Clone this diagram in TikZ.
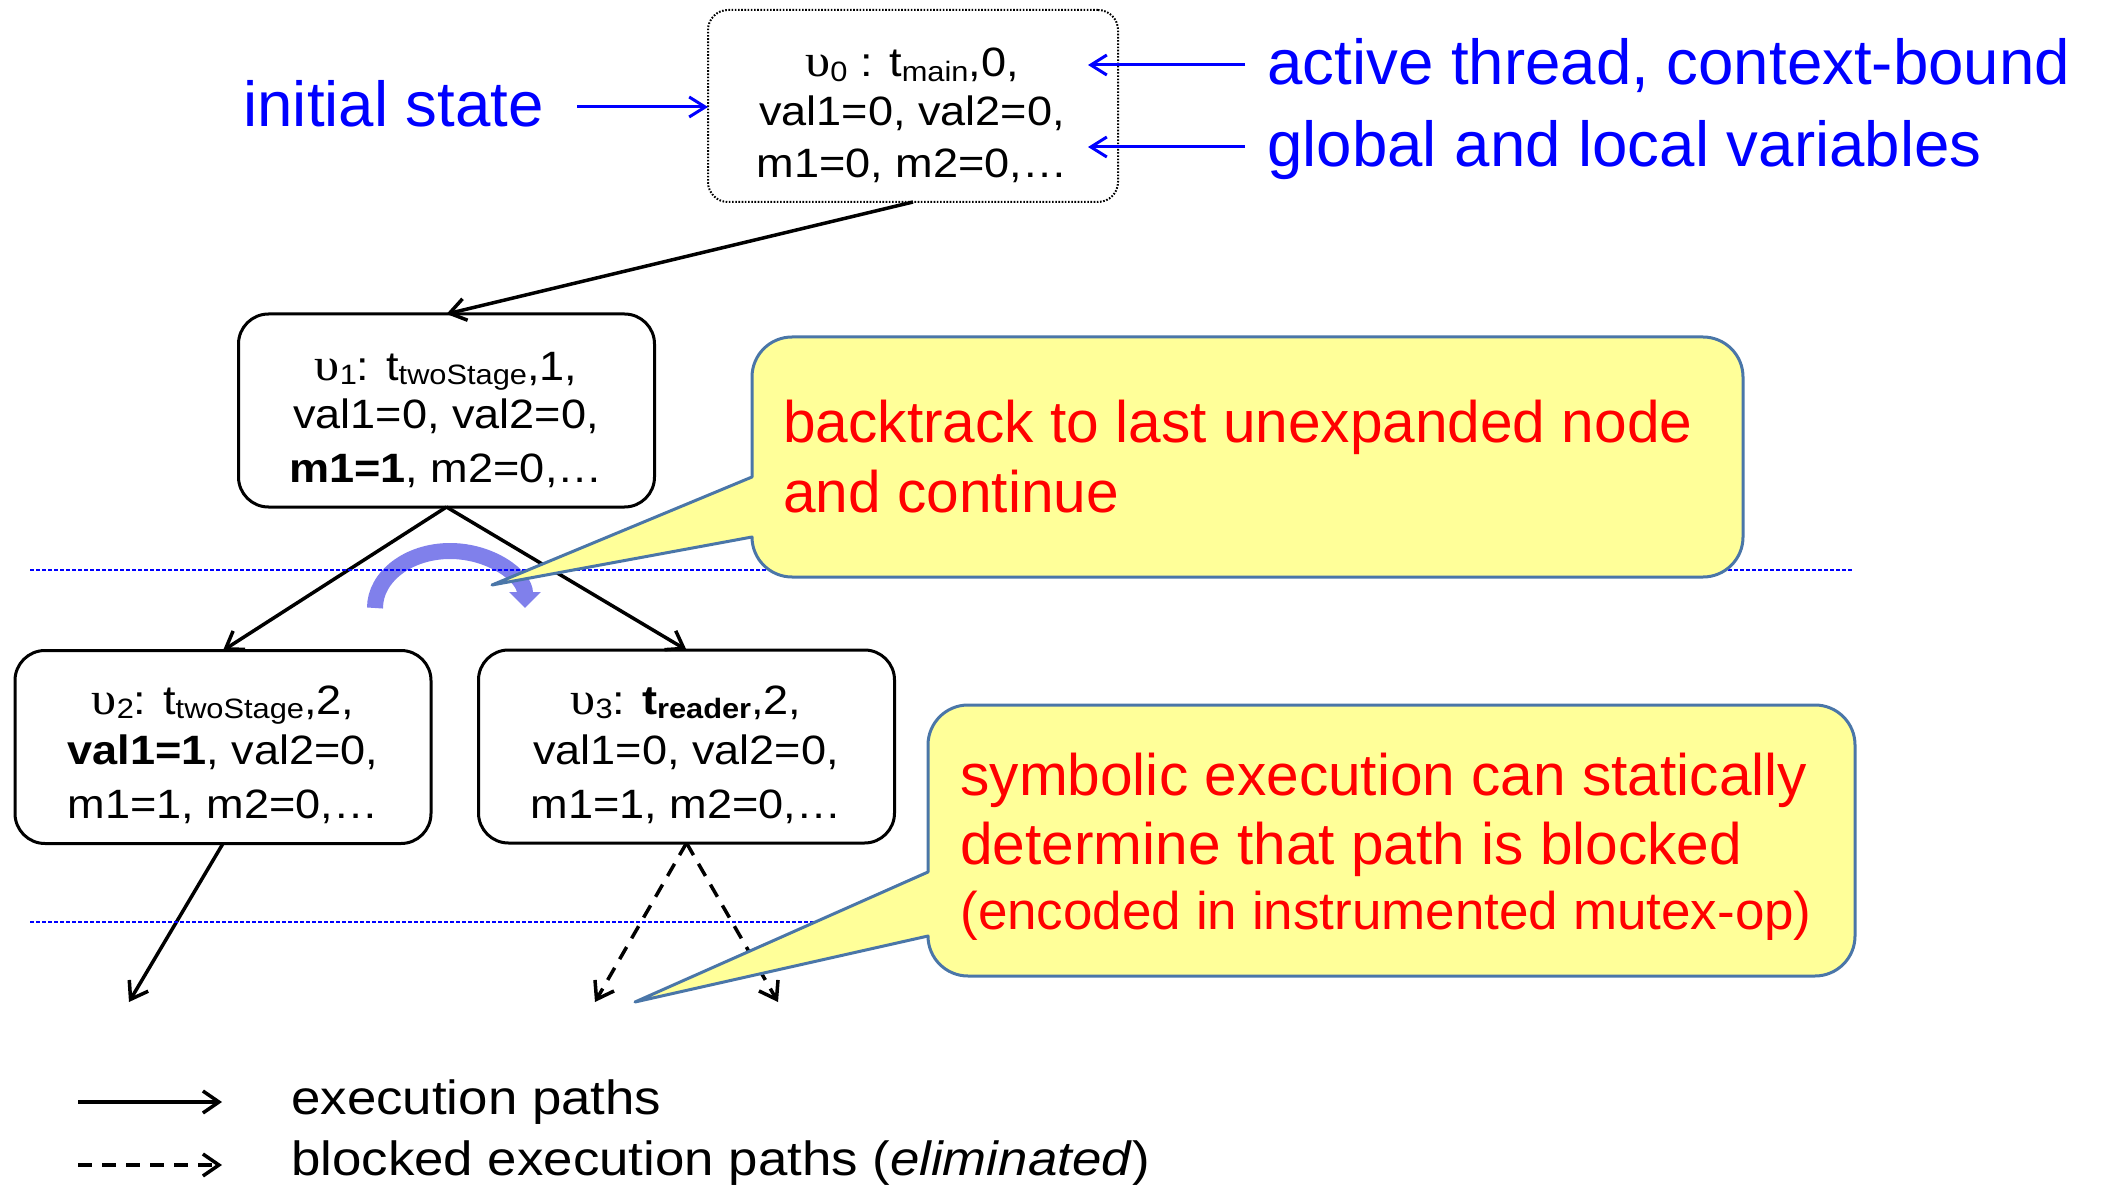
\documentclass[tikz,border=0pt]{standalone}
\usepackage{fontspec}
\usepackage{graphicx}
\setmainfont{Liberation Sans}
\newfontfamily\widesans[FakeStretch=1.1]{Liberation Sans}
\newfontfamily\widegreek[FakeStretch=1.1]{Liberation Serif}
\usetikzlibrary{arrows.meta}

\definecolor{callfill}{RGB}{255,255,153}
\definecolor{callline}{RGB}{74,118,168}
\definecolor{loopblue}{RGB}{128,128,235}
\definecolor{guide}{RGB}{0,0,255}
\definecolor{notered}{RGB}{255,0,0}
\definecolor{noteblue}{RGB}{0,0,255}

% subscript used in the state labels
\newcommand\lowtext[1]{\raisebox{-0.12em}{\fontsize{14}{14}\selectfont #1}}
\newcommand\upsi{{\widegreek\fontsize{23}{24}\selectfont υ}}

\begin{document}
\begin{tikzpicture}[x=0.5pt,y=-0.5pt,
  state/.style={draw, line width=1.5pt, rounded corners=15pt, fill=white,
    minimum width=208pt, minimum height=96.5pt, inner sep=0pt, outer sep=0pt},
  statetext/.style={anchor=base, inner sep=0pt,
    font=\widesans\fontsize{20.5}{24}\selectfont},
  execpath/.style={line width=1.75pt,
    -{Straight Barb[length=8pt,width=11pt]}},
  blockedpath/.style={execpath, dash pattern=on 7pt off 5pt},
  pointer/.style={draw=noteblue, line width=1.5pt,
    -{Straight Barb[length=8pt,width=10pt]}},
  bluenote/.style={anchor=base west, inner sep=0pt, text=noteblue,
    font=\fontsize{31.8}{36}\selectfont},
  rednote/.style={anchor=base west, inner sep=0pt, text=notered,
    font=\fontsize{29.3}{34}\selectfont},
  smallrednote/.style={anchor=base west, inner sep=0pt, text=notered,
    font=\fontsize{26.5}{30}\selectfont},
  legendtext/.style={anchor=base west, inner sep=0pt,
    font=\widesans\fontsize{24}{28}\selectfont},
  guideline/.style={draw=guide, line width=0.8pt, dash pattern=on 2pt off 1pt},
  callout/.style={fill=callfill, draw=callline, line width=1.5pt, line join=round}
]
\useasboundingbox (0,0) rectangle (2103,1187);

% state boxes
\node[state, line width=1pt, dash pattern=on 0.8pt off 0.8pt,
      rounded corners=10pt, minimum width=205pt, minimum height=96pt]
      (v0) at (913,106) {};
\node[state] (v1) at (446.5,410.5) {};
\node[state] (v2) at (223,747) {};
\node[state] (v3) at (686.5,746.5) {};

% free ends of the outgoing paths
\coordinate (end2) at (129,1002);
\coordinate (end3a) at (595,1002);
\coordinate (end3b) at (778,1002);

% backtracking arc
\draw[loopblue, line width=8pt, -{Triangle[width=15.5pt,length=8pt]}]
  (375,608) arc[start angle=180, end angle=360, x radius=75, y radius=57];

% execution paths
\draw[execpath] (v0.south) -- (v1.north);
\draw[execpath] (v1.south) -- (v2.north);
\draw[execpath] (v1.south) -- (v3.north);
\draw[execpath] (v2.south) -- (end2);
\draw[blockedpath] (v3.south) -- (end3a);
\draw[blockedpath] (v3.south) -- (end3b);

% level separators
\draw[guideline] (30,570) -- (1853,570);
\draw[guideline] (30,922) -- (1853,922);

% callouts
\draw[callout] (792,337) -- (1703,337)
  .. controls (1725.1,337) and (1743,354.9) .. (1743,377) -- (1743,537)
  .. controls (1743,559.1) and (1725.1,577) .. (1703,577) -- (792,577)
  .. controls (769.9,577) and (752,559.1) .. (752,537)
  -- (492,585) -- (752,477) -- (752,377)
  .. controls (752,354.9) and (769.9,337) .. (792,337) -- cycle;
\draw[callout] (968,705) -- (1815,705)
  .. controls (1837.1,705) and (1855,722.9) .. (1855,745) -- (1855,936)
  .. controls (1855,958.1) and (1837.1,976) .. (1815,976) -- (968,976)
  .. controls (945.9,976) and (928,958.1) .. (928,936)
  -- (635,1002) -- (928,872) -- (928,745)
  .. controls (928,722.9) and (945.9,705) .. (968,705) -- cycle;

% state contents
\node[statetext] (v0a) at (912,77) {\upsi\lowtext{0} : t\lowtext{main},0,};
\node[statetext] (v0b) at (912,126) {val1=0, val2=0,};
\node[statetext] (v0c) at (912,178) {m1=0, m2=0,…};

\node[statetext] (v1a) at (446,380) {\upsi\lowtext{1}: t\lowtext{twoStage},1,};
\node[statetext] (v1b) at (446,429) {val1=0, val2=0,};
\node[statetext] (v1c) at (446,482) {\textbf{m1=1}, m2=0,…};

\node[statetext] (v2a) at (223,714) {\upsi\lowtext{2}: t\lowtext{twoStage},2,};
\node[statetext] (v2b) at (223,764) {\textbf{val1=1}, val2=0,};
\node[statetext] (v2c) at (223,818) {m1=1, m2=0,…};

\node[statetext] (v3a) at (686,714) {\upsi\lowtext{3}: \textbf{t\lowtext{reader}},2,};
\node[statetext] (v3b) at (686,764) {val1=0, val2=0,};
\node[statetext] (v3c) at (686,818) {m1=1, m2=0,…};

% annotations in blue
\node[bluenote] (init) at (243,127) {initial state};
\node[bluenote] (act) at (1267,85) {active thread, context-bound};
\node[bluenote] (vars) at (1267,167) {global and local variables};
\coordinate (initTail) at (577,107);
\coordinate (actTail) at (1245,65);
\coordinate (actHead) at (1088,65);
\coordinate (varsTail) at (1245,147);
\coordinate (varsHead) at (1088,147);
\draw[pointer] (initTail) -- (initTail -| v0.west);
\draw[pointer] (actTail) -- (actHead);
\draw[pointer] (varsTail) -- (varsHead);

% callout texts
\node[rednote] (noteA1) at (783,443) {backtrack to last unexpanded node};
\node[rednote] (noteA2) at (783,512) {and continue};
\node[rednote] (noteB1) at (960,795) {symbolic execution can statically};
\node[rednote] (noteB2) at (960,864) {determine that path is blocked};
\node[smallrednote] (noteB3) at (960,929) {(encoded in instrumented mutex-op)};

% legend
\coordinate (legA0) at (78,1102);
\coordinate (legA1) at (222,1102);
\coordinate (legB0) at (78,1165);
\coordinate (legB1) at (222,1165);
\draw[execpath] (legA0) -- (legA1);
\draw[blockedpath] (legB0) -- (legB1);
\node[legendtext] (legA) at (291,1114) {execution paths};
\node[legendtext] (legB) at (291,1175) {blocked execution paths (\textit{eliminated})};
\end{tikzpicture}
\end{document}
